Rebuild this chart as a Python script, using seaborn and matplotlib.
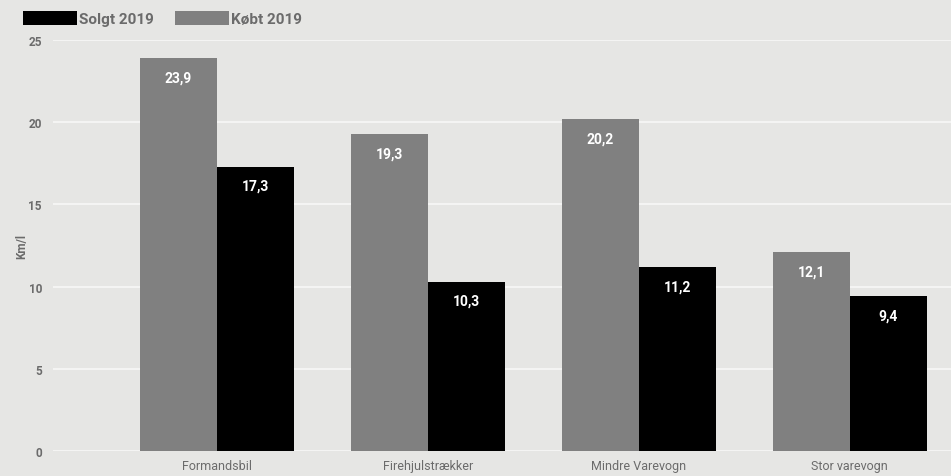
import matplotlib
matplotlib.use("Agg")
import matplotlib.pyplot as plt
from matplotlib.patches import Patch
import seaborn as sns
import pandas as pd

categories = ["Formandsbil", "Firehjulstrækker", "Mindre Varevogn", "Stor varevogn"]
kobt_2019 = [23.9, 19.3, 20.2, 12.1]
solgt_2019 = [17.3, 10.3, 11.2, 9.4]
y_ticks = [0, 5, 10, 15, 20, 25]

df = pd.DataFrame({
    "Kategori": categories * 2,
    "Km/l": kobt_2019 + solgt_2019,
    "Serie": ["Købt 2019"] * len(categories) + ["Solgt 2019"] * len(categories),
})

BG = "#e6e6e4"
GRAY = "#808080"
TXT = "#6b6b6b"

sns.set_theme(style="whitegrid")
plt.rcParams["font.family"] = ["Roboto", "DejaVu Sans"]

fig = plt.figure(figsize=(9.51, 4.77), dpi=100, facecolor=BG)
ax = fig.add_axes([53 / 951, 25 / 477, 1 - 53 / 951, (452 - 41) / 477])
ax.set_facecolor(BG)

sns.barplot(
    data=df, x="Kategori", y="Km/l", hue="Serie",
    hue_order=["Købt 2019", "Solgt 2019"],
    palette=[GRAY, "#000000"], width=0.73, ax=ax,
    saturation=1, legend=False, errorbar=None,
    edgecolor="none",
)

ax.set_ylim(0, 25)
ax.set_xlim(-0.777, 3.48)
ax.set_yticks(y_ticks)
ax.set_yticklabels([str(t) for t in y_ticks])
ax.grid(axis="y", color="#f7f7f7", linewidth=1.2)
ax.grid(axis="x", visible=False)
ax.set_axisbelow(True)
for s in ax.spines.values():
    s.set_visible(False)
ax.tick_params(axis="y", length=0, pad=8, labelsize=8.5, labelcolor=TXT)
ax.tick_params(axis="x", length=0, pad=6, labelsize=9, labelcolor=TXT)
for lbl in ax.get_yticklabels():
    lbl.set_fontweight("bold")
ax.set_xlabel("")
ax.set_ylabel("Km/l", fontsize=8.5, color=TXT, fontweight="bold", labelpad=0)

for cont, vals in zip(ax.containers, [kobt_2019, solgt_2019]):
    ax.bar_label(
        cont, labels=[f"{v:.1f}".replace(".", ",") for v in vals],
        padding=-19, color="white", fontsize=10, fontweight="bold",
    )

handles = [Patch(facecolor="#000000", edgecolor="none"),
           Patch(facecolor=GRAY, edgecolor="none")]
fig.legend(
    handles, ["Solgt 2019", "Købt 2019"], loc="upper left",
    bbox_to_anchor=(14 / 951, 0.995), ncol=2, frameon=False,
    handlelength=3.5, handleheight=1.05, handletextpad=0.15,
    columnspacing=1.4, borderaxespad=0.2,
    prop={"size": 11, "weight": "bold"}, labelcolor=TXT,
)

fig.savefig("out.png", dpi=100, facecolor=BG)
